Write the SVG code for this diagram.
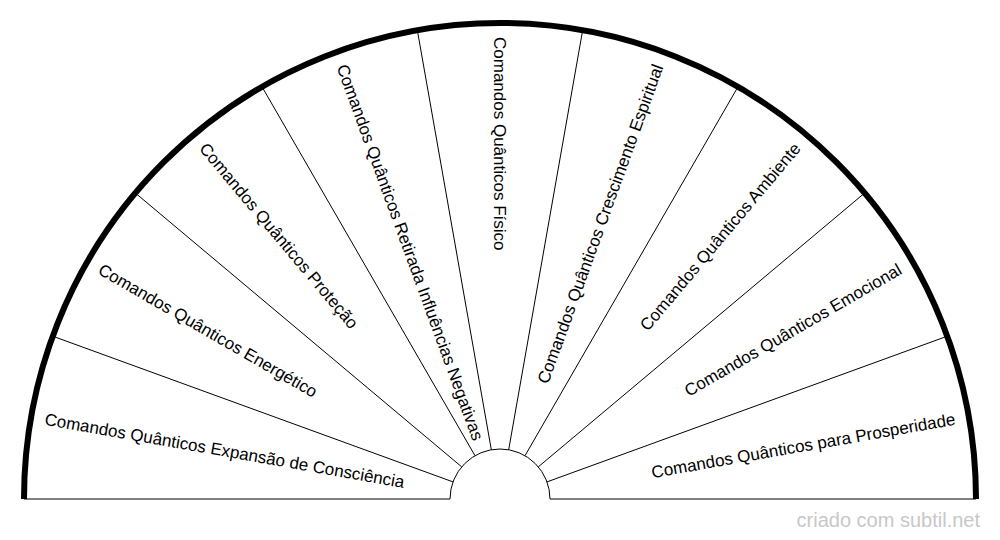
<svg xmlns="http://www.w3.org/2000/svg" width="1000" height="540" viewBox="0 0 1000 540">
<style>
.lbl{font-family:"Liberation Sans",Arial,sans-serif;font-size:17px;fill:#000}
.div{stroke:#000;stroke-width:1;fill:none}
.credit{font-family:"Liberation Sans",Arial,sans-serif;font-size:20px;fill:#c8c8c8}
</style>
<rect width="1000" height="540" fill="#fff"/>
<g id="frame">
<line class="div" x1="24" y1="499" x2="450" y2="499"/>
<line class="div" x1="550" y1="499" x2="976" y2="499"/>
<path class="div" d="M450 499 A50 50 0 0 1 550 499"/>
<path d="M24 499 A476 476 0 0 1 976 499" fill="none" stroke="#000" stroke-width="6"/>
</g>
<g id="connectors">
<line class="div" x1="453.02" y1="481.90" x2="52.71" y2="336.20"/>
<line class="div" x1="461.70" y1="466.86" x2="135.36" y2="193.03"/>
<line class="div" x1="475" y1="455.70" x2="262" y2="86.77"/>
<line class="div" x1="491.32" y1="449.76" x2="417.34" y2="30.23"/>
<line class="div" x1="508.68" y1="449.76" x2="582.66" y2="30.23"/>
<line class="div" x1="525" y1="455.70" x2="738" y2="86.77"/>
<line class="div" x1="538.30" y1="466.86" x2="864.64" y2="193.03"/>
<line class="div" x1="546.98" y1="481.90" x2="947.29" y2="336.20"/>
</g>
<g id="s1"><text class="lbl" transform="translate(45.02 418.77) rotate(10)" dy=".35em">Comandos Quânticos Expansão de Consciência</text></g>
<g id="s2"><text class="lbl" transform="translate(99.89 268) rotate(30)" dy=".35em">Comandos Quânticos Energético</text></g>
<g id="s3"><text class="lbl" transform="translate(203.03 145.09) rotate(50)" dy=".35em">Comandos Quânticos Proteção</text></g>
<g id="s4"><text class="lbl" transform="translate(341.99 64.86) rotate(70)" dy=".35em">Comandos Quânticos Retirada Influências Negativas</text></g>
<g id="s5"><text class="lbl" transform="translate(500 37) rotate(90)" dy=".35em">Comandos Quânticos Físico</text></g>
<g id="s6"><text class="lbl" transform="translate(658.01 64.86) rotate(-70)" dy=".35em" text-anchor="end">Comandos Quânticos Crescimento Espiritual</text></g>
<g id="s7"><text class="lbl" transform="translate(796.97 145.09) rotate(-50)" dy=".35em" text-anchor="end">Comandos Quânticos Ambiente</text></g>
<g id="s8"><text class="lbl" transform="translate(900.11 268) rotate(-30)" dy=".35em" text-anchor="end">Comandos Quânticos Emocional</text></g>
<g id="s9"><text class="lbl" transform="translate(954.98 418.77) rotate(-10)" dy=".35em" text-anchor="end">Comandos Quânticos para Prosperidade</text></g>
<text class="credit" x="980" y="527" text-anchor="end">criado com subtil.net</text>
</svg>
